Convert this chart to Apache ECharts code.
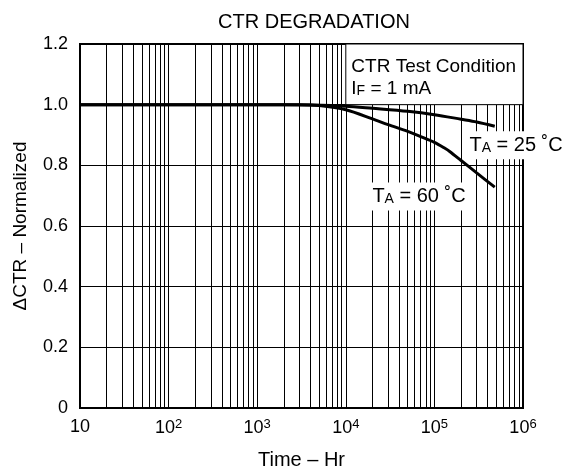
<!DOCTYPE html>
<html>
<head>
<meta charset="utf-8">
<script src="https://cdn.jsdelivr.net/npm/echarts@6/dist/echarts.min.js"></script>
<style>
  html, body { margin: 0; padding: 0; background: #fff; }
  #chart { width: 566px; height: 475px; }
</style>
</head>
<body>
<div id="chart"></div>
<script>
// curve data (hours, normalized CTR)
var hours25 = [10, 100, 1000, 2000, 4000, 10000, 20000, 50000, 100000, 200000, 300000, 480000]
var ctr25 = [1.0, 1.0, 1.0, 1.0, 0.999, 0.995, 0.988, 0.978, 0.967, 0.952, 0.943, 0.929]
var hours60 = [10, 100, 1000, 2000, 3000, 5000, 10000, 20000, 30000, 50000, 70000, 100000, 130000, 150000, 200000, 300000, 480000]
var ctr60 = [1.0, 1.0, 1.0, 1.0, 1.0, 0.997, 0.983, 0.953, 0.934, 0.912, 0.895, 0.876, 0.857, 0.845, 0.816, 0.775, 0.728]

// minor vertical grid positions (2..9 of each decade)
var minorGrid = []
for (var d = 10; d < 1e6; d *= 10) {
  for (var m = 2; m <= 9; m++) minorGrid.push(m * d)
}

var font = 'Liberation Sans, Arial, sans-serif'

function pairs(xs, ys) {
  return xs.map(function (x, i) { return [x, ys[i]] })
}

function textPoint(coord, text, pos, bg, size) {
  return {
    coord: coord,
    label: {
      show: true,
      position: pos,
      distance: 0,
      backgroundColor: bg ? '#fff' : 'transparent',
      padding: bg ? [3, 2, 3, 2] : 0,
      fontFamily: font,
      fontSize: size,
      lineHeight: 22,
      color: '#000',
      formatter: text,
      rich: {
        sub: { fontFamily: font, fontSize: 14, color: '#000', verticalAlign: 'bottom', lineHeight: 22, padding: [0, 0, 1, 0] }
      }
    }
  }
}

var markBase = {
  z: 4,
  silent: true,
  symbol: 'circle',
  symbolSize: 1,
  itemStyle: { color: 'rgba(0,0,0,0)' }
}

var chart = echarts.init(document.getElementById('chart'))

chart.setOption({
  animation: false,
  title: {
    text: 'CTR DEGRADATION',
    left: 309,
    top: 7,
    textAlign: 'center',
    textStyle: { fontFamily: font, fontSize: 20, fontWeight: 'normal', color: '#000' }
  },
  grid: {
    left: 80,
    right: 43,
    top: 44,
    bottom: 59,
    show: true,
    borderColor: '#000',
    borderWidth: 2
  },
  xAxis: {
    type: 'log',
    logBase: 10,
    min: 10,
    max: 1000000,
    name: 'Time – Hr',
    nameLocation: 'middle',
    nameGap: 42,
    nameTextStyle: { fontFamily: font, fontSize: 20, color: '#000' },
    axisLine: { lineStyle: { color: '#000', width: 2 } },
    axisTick: { show: false },
    axisLabel: {
      fontFamily: font,
      fontSize: 18,
      color: '#000',
      margin: 10,
      formatter: function (v) {
        var e = Math.round(Math.log(v) / Math.LN10)
        return e === 1 ? '10' : '10{sup|' + e + '}'
      },
      rich: {
        sup: { fontFamily: font, fontSize: 13, color: '#000', verticalAlign: 'top', padding: [0, 0, 8, 0] }
      }
    },
    splitLine: { show: true, lineStyle: { color: '#000', width: 1 } }
  },
  yAxis: {
    type: 'value',
    min: 0,
    max: 1.2,
    interval: 0.2,
    name: 'ΔCTR – Normalized',
    nameLocation: 'middle',
    nameGap: 50,
    nameTextStyle: { fontFamily: font, fontSize: 19, color: '#000' },
    axisLine: { show: true, lineStyle: { color: '#000', width: 2 } },
    axisTick: { show: false },
    axisLabel: {
      fontFamily: font,
      fontSize: 18,
      color: '#000',
      margin: 12,
      formatter: function (v) { return v === 0 ? '0' : v.toFixed(1) }
    },
    splitLine: { show: true, lineStyle: { color: '#000', width: 1 } }
  },
  series: [
    {
      // minor log grid + test condition box
      type: 'line',
      data: [],
      silent: true,
      markLine: {
        z: 1,
        silent: true,
        symbol: 'none',
        label: { show: false },
        lineStyle: { color: '#000', width: 1, type: 'solid' },
        data: minorGrid.map(function (x) { return { xAxis: x } })
      },
      markArea: {
        z: 2,
        silent: true,
        itemStyle: { color: '#fff', borderColor: '#000', borderWidth: 1 },
        label: { show: false },
        data: [[{ xAxis: 10000, yAxis: 1.0 }, { xAxis: 1000000, yAxis: 1.2 }]]
      },
      markPoint: Object.assign({}, markBase, {
        data: [textPoint([10000, 1.2], 'CTR Test Condition\nI{sub|F} = 1 mA', [6, 12], false, 19)]
      })
    },
    {
      name: '25',
      type: 'line',
      z: 3,
      smooth: 0.3,
      symbol: 'none',
      lineStyle: { color: '#000', width: 3 },
      data: pairs(hours25, ctr25),
      markPoint: Object.assign({}, markBase, {
        data: [textPoint([233000, 0.866], 'T{sub|A} = 25 ˚C', 'right', true, 20)]
      })
    },
    {
      name: '60',
      type: 'line',
      z: 3,
      smooth: 0.3,
      symbol: 'none',
      lineStyle: { color: '#000', width: 3 },
      data: pairs(hours60, ctr60),
      markPoint: Object.assign({}, markBase, {
        data: [textPoint([18700, 0.697], 'T{sub|A} = 60 ˚C', 'right', true, 20)]
      })
    }
  ]
})
</script>
</body>
</html>
